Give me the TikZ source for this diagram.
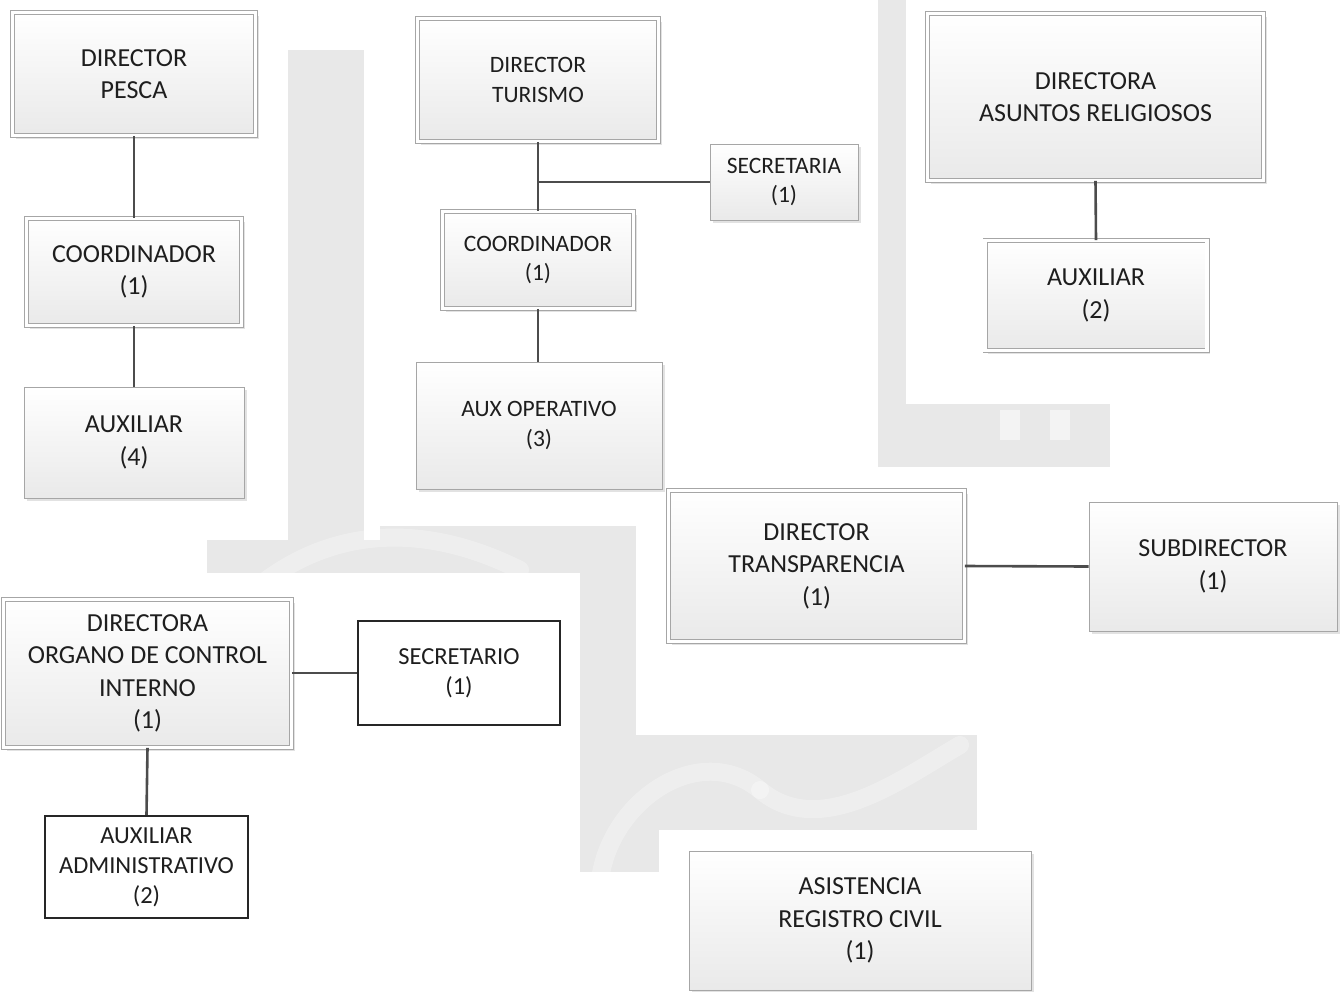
\documentclass[tikz,border=0pt]{standalone}
\usepackage{fontspec}
\setmainfont{Carlito}
\usetikzlibrary{shadows}
\definecolor{wm}{HTML}{E8E8E8}
\definecolor{txt}{HTML}{1E1E1E}
\tikzset{
  base/.style={rectangle, align=center, inner sep=2pt, text=txt, font=\fontsize{26}{32.5}\selectfont},
  small/.style={font=\fontsize{23.5}{29.5}\selectfont},
  mid/.style={font=\fontsize{24.5}{30}\selectfont},
  sbox/.style={base, draw=gray!70, line width=1pt, top color=white, bottom color=gray!17,
    drop shadow={shadow xshift=3pt, shadow yshift=-3pt, fill=gray!45, opacity=0.5}},
  dbox/.style={sbox, double=white, double distance=3.2pt, line width=0.9pt},
  bbox/.style={base, draw=black!85, line width=2.4pt, fill=white},
  conn/.style={draw=black!70, line width=2.6pt},
  wmark/.style={fill=wm, draw=none},
  swoosh/.style={draw=white, opacity=0.3, line width=18pt, line cap=round}
}
\begin{document}
\begin{tikzpicture}[x=1pt,y=-1pt]
\useasboundingbox (0,0) rectangle (1344,991);
% watermark patches
\fill[wmark] (288,50) rectangle (364,540);
\fill[wmark] (207,540) rectangle (636,573);
\fill[wmark] (380,526) rectangle (636,540);
\fill[wmark] (580,573) rectangle (636,872);
\fill[wmark] (636,735) rectangle (977,830);
\fill[wmark] (636,830) rectangle (659,872);
\fill[wmark] (878,0) rectangle (906,467);
\fill[wmark] (906,404) rectangle (1110,467);
\begin{scope}
  \clip (288,50) rectangle (364,540) (207,526) rectangle (636,573) (580,573) rectangle (636,872) (636,735) rectangle (977,830);
  \draw[swoosh] (260,585) .. controls (330,530) and (420,520) .. (520,570);
  \draw[swoosh] (600,880) .. controls (610,800) and (700,740) .. (760,790);
  \draw[swoosh] (760,790) .. controls (820,840) and (900,780) .. (960,745);
\end{scope}
\begin{scope}
  \clip (906,404) rectangle (1110,467);
  \fill[white, opacity=0.5] (1000,410) rectangle (1020,440);
  \fill[white, opacity=0.5] (1050,410) rectangle (1070,440);
\end{scope}

% PESCA
\node[dbox, minimum width=243pt, minimum height=123pt] (pesca) at (134,74) {DIRECTOR\\PESCA};
\node[dbox, minimum width=215pt, minimum height=107pt] (coordp) at (134,272) {COORDINADOR\\(1)};
\node[sbox, minimum width=220pt, minimum height=111pt] (aux4) at (134,442.5) {AUXILIAR\\(4)};

% TURISMO
\node[dbox, small, minimum width=241pt, minimum height=123pt] (tur) at (538,80) {DIRECTOR\\TURISMO};
\node[sbox, small, minimum width=148pt, minimum height=76pt] (sect) at (784,182) {SECRETARIA\\(1)};
\node[dbox, small, minimum width=191pt, minimum height=97pt] (coordt) at (538,260) {COORDINADOR\\(1)};
\node[sbox, small, minimum width=246pt, minimum height=127pt] (auxop) at (539,425.5) {AUX OPERATIVO\\(3)};

% RELIGIOSOS
\node[dbox, minimum width=336pt, minimum height=167pt] (rel) at (1095.5,97) {DIRECTORA\\ASUNTOS RELIGIOSOS};
\node[dbox, minimum width=222pt, minimum height=110pt] (aux2) at (1096,295.5) {AUXILIAR\\(2)};

% ORGANO DE CONTROL
\node[dbox, minimum width=288pt, minimum height=148pt] (org) at (147.5,673.5) {DIRECTORA\\ORGANO DE CONTROL\\INTERNO\\(1)};
\node[bbox, mid, minimum width=202pt, minimum height=104pt] (secro) at (459,673) {SECRETARIO\\(1)};
\node[bbox, mid, minimum width=203pt, minimum height=102pt] (adm) at (146.5,867) {AUXILIAR\\ADMINISTRATIVO\\(2)};

% TRANSPARENCIA
\node[dbox, minimum width=296pt, minimum height=151pt] (tra) at (816.5,566) {DIRECTOR\\TRANSPARENCIA\\(1)};
\node[sbox, minimum width=248pt, minimum height=129pt] (sub) at (1213,566.5) {SUBDIRECTOR\\(1)};

% REGISTRO CIVIL
\node[sbox, minimum width=342pt, minimum height=139pt] (reg) at (860,920.5) {ASISTENCIA\\REGISTRO CIVIL\\(1)};

% connectors
\draw[conn] (pesca.south) -- (coordp.north);
\draw[conn] (coordp.south) -- (aux4.north);
\draw[conn] (tur.south) -- (coordt.north);
\draw[conn] (tur.south |- sect.west) -- (sect.west);
\draw[conn] (coordt.south) -- (coordt.south |- auxop.north);
\draw[conn] (rel.south) -- (aux2.north);
\draw[conn] (org.east |- secro.west) -- (secro.west);
\draw[conn] (org.south) -- (adm.north);
\draw[conn] (tra.east) -- (sub.west);
\end{tikzpicture}
\end{document}
